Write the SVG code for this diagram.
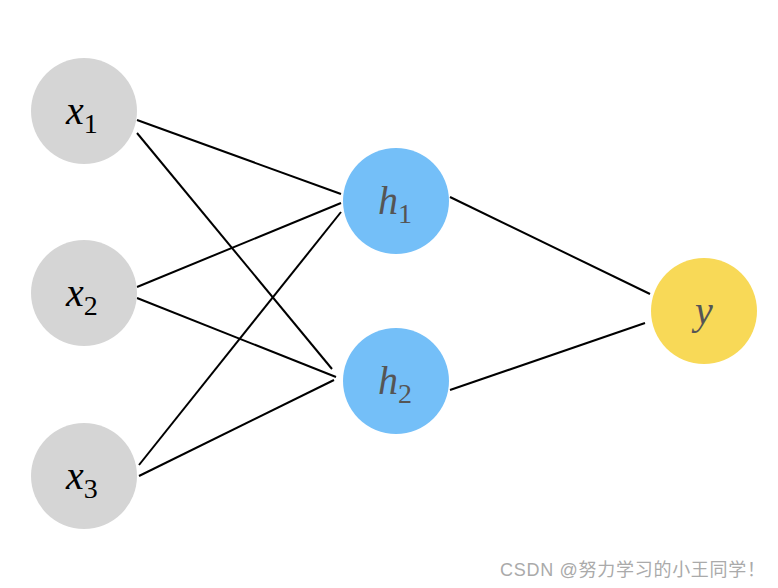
<svg xmlns="http://www.w3.org/2000/svg" width="778" height="588" viewBox="0 0 778 588">
<style>
.in{fill:#d5d5d5}
.hid{fill:#74bff8}
.out{fill:#f8d957}
.lbl{font-family:"Liberation Serif","DejaVu Serif",serif;font-style:italic;font-size:40px}
.sub{font-style:normal;font-size:28px}
.dark{fill:#000}
.gray{fill:#555}
.edge{stroke:#000;stroke-width:2;fill:none}
.wm{font-family:"Liberation Sans","Noto Sans CJK SC",sans-serif;font-size:18px;fill:#aaa}
</style>
<rect width="778" height="588" fill="#fff"/>
<g id="connectors">
<line class="edge" x1="137" y1="120" x2="341" y2="194"/>
<line class="edge" x1="137" y1="133" x2="332" y2="369"/>
<line class="edge" x1="137" y1="287" x2="341" y2="203"/>
<line class="edge" x1="137" y1="298" x2="336" y2="377"/>
<line class="edge" x1="139" y1="465" x2="341" y2="212"/>
<line class="edge" x1="139" y1="476" x2="334" y2="380"/>
<line class="edge" x1="450" y1="197" x2="650" y2="294"/>
<line class="edge" x1="450" y1="390" x2="645" y2="323"/>
</g>
<g id="x1"><circle class="in" cx="84" cy="111" r="53"/><text class="lbl dark" x="66" y="124">x<tspan class="sub" dy="9">1</tspan></text></g>
<g id="x2"><circle class="in" cx="84" cy="293" r="53"/><text class="lbl dark" x="66" y="306">x<tspan class="sub" dy="9">2</tspan></text></g>
<g id="x3"><circle class="in" cx="84" cy="476" r="53"/><text class="lbl dark" x="66" y="489">x<tspan class="sub" dy="9">3</tspan></text></g>
<g id="h1"><circle class="hid" cx="396" cy="201" r="53"/><text class="lbl gray" x="378" y="214">h<tspan class="sub" dy="9">1</tspan></text></g>
<g id="h2"><circle class="hid" cx="396" cy="381" r="53"/><text class="lbl gray" x="378" y="394">h<tspan class="sub" dy="9">2</tspan></text></g>
<g id="y"><circle class="out" cx="704" cy="311" r="53"/><text class="lbl gray" x="704" y="324" text-anchor="middle">y</text></g>
<text class="wm" x="500" y="576" textLength="265">CSDN @努力学习的小王同学！</text>
</svg>
